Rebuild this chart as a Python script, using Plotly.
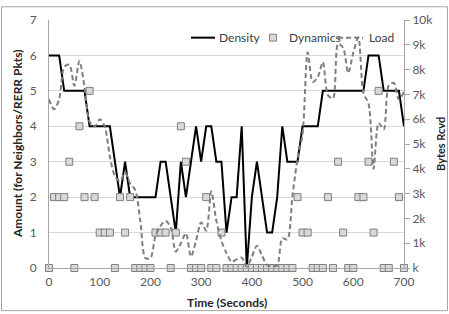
import plotly.graph_objects as go

time_s = list(range(0, 701, 10))

density = [6, 6, 6, 5, 5, 5, 5, 5, 4, 4,
           4, 4, 4, 3, 2, 3, 2, 2, 2, 2,
           2, 2, 3, 3, 2, 1, 3, 2, 3, 4,
           3, 4, 4, 3, 3, 1, 2, 2, 4, 0,
           2, 3, 2, 1, 1, 2, 4, 3, 3, 3,
           4, 4, 4, 4, 5, 5, 5, 5, 5, 5,
           5, 5, 5, 6, 6, 6, 5, 5, 5, 5,
           4]

dynamics = [0, 2, 2, 2, 3, 0, 4, 2, 5, 2,
            1, 1, 1, 0, 2, 1, 2, 0, 0, 0,
            0, 1, 1, 1, 0, 1, 4, 3, 0, 0,
            0, 2, 0, 0, 1, 0, 0, 0, 0, 0,
            0, 0, 0, 0, 0, 0, 0, 0, 0, 2,
            1, 1, 0, 0, 0, 2, 0, 3, 1, 0,
            0, 2, 2, 3, 1, 5, 0, 0, 3, 2,
            0]

load = [6800, 6400, 6800, 8100, 8200, 7350, 8350, 7300, 5900, 5700,
        6000, 5700, 4500, 3700, 3500, 3850, 3400, 3150, 1900, 400,
        400, 1300, 1700, 1900, 1640, 660, 1000, 1400, 460, 1100,
        1840, 1500, 3090, 1900, 1100, 600, 250, 350, 420, 50,
        450, 900, 500, 120, 80, 100, 1200, 1150, 2900, 4400,
        5400, 8700, 7500, 7700, 8300, 6970, 6840, 9040, 8880, 7860,
        8680, 9300, 7040, 6640, 4000, 5850, 5590, 7370, 7460, 6800,
        7100]

series_names = ["Density", "Dynamics", "Load"]
left_ticks = list(range(0, 8))
right_tickvals = list(range(0, 10001, 1000))
right_ticktext = ["k"] + [f"{i}k" for i in range(1, 11)]
x_ticks = list(range(0, 701, 100))

FONT = "Lato, 'Liberation Sans', sans-serif"
TICKC = "#595959"
DARK = "#262626"
DENS_STYLE = dict(color="black", width=2)
DYN_MARKER = dict(symbol="square", size=7, color="#d9d9d9", line=dict(color="#7f7f7f", width=1))
LOAD_STYLE = dict(color="#7f7f7f", width=2, dash="5px,3px")

fig = go.Figure()
fig.add_trace(go.Scatter(x=time_s, y=density, name=series_names[0], mode="lines",
                         line=DENS_STYLE, cliponaxis=False, showlegend=False))
fig.add_trace(go.Scatter(x=time_s, y=dynamics, name=series_names[1], mode="markers",
                         marker=DYN_MARKER, cliponaxis=False, showlegend=False))
fig.add_trace(go.Scatter(x=time_s, y=load, name=series_names[2], mode="lines", yaxis="y2",
                         line=dict(**LOAD_STYLE, shape="spline", smoothing=0.8),
                         cliponaxis=False, showlegend=False))

L, R, T, B = 49, 45, 15, 46
W, H = 449, 314
pw, ph = W - L - R, H - T - B

def px(xo):
    return (xo - L) / pw

def py(yo):
    return (H - B - yo) / ph

# hand-drawn legend (compact, like the original)
LEG_Y = py(33)
shapes = [
    dict(type="rect", xref="paper", yref="paper", x0=px(1.5), x1=px(447.5),
         y0=py(311.5), y1=py(1.5), line=dict(color="#a6a6a6", width=1), layer="above"),
    dict(type="line", xref="paper", yref="paper", x0=px(191), x1=px(215), y0=LEG_Y, y1=LEG_Y,
         line=dict(color=DENS_STYLE["color"], width=DENS_STYLE["width"])),
    dict(type="rect", xref="paper", yref="paper", x0=px(269.5), x1=px(276.5),
         y0=py(36.5), y1=py(29.5), fillcolor=DYN_MARKER["color"],
         line=dict(color="#7f7f7f", width=1)),
    dict(type="line", xref="paper", yref="paper", x0=px(338), x1=px(363), y0=LEG_Y, y1=LEG_Y,
         line=dict(color=LOAD_STYLE["color"], width=2, dash="5px,3px")),
]
legend_text = [(217, series_names[0]), (287, series_names[1]), (367, series_names[2])]

annotations = [
    dict(text="<b>Time (Seconds)</b>", xref="paper", yref="paper", x=px(226.5), y=py(303),
         xanchor="center", yanchor="middle", showarrow=False, font=dict(size=12, color=DARK)),
    dict(text="<b>Amount (for Neighbors/RERR Pkts)</b>", xref="paper", yref="paper",
         x=px(17), y=py(141.5), xanchor="center", yanchor="middle", textangle=-90,
         showarrow=False, font=dict(size=12, color=DARK)),
    dict(text="<b>Bytes Rcvd</b>", xref="paper", yref="paper",
         x=px(440), y=py(141.5), xanchor="center", yanchor="middle", textangle=-90,
         showarrow=False, font=dict(size=11, color=DARK)),
]
for xo, t in legend_text:
    annotations.append(dict(text=t, xref="paper", yref="paper", x=px(xo), y=LEG_Y,
                            xanchor="left", yanchor="middle", showarrow=False,
                            font=dict(size=12, color="#404040")))

fig.update_layout(
    width=W, height=H,
    margin=dict(l=L, r=R, t=T, b=B),
    paper_bgcolor="white", plot_bgcolor="white",
    font=dict(family=FONT, size=12, color=TICKC),
    xaxis=dict(range=[0, 700], tickvals=x_ticks, showgrid=False, zeroline=False,
               showline=True, linecolor="#a6a6a6", ticks="", ticklabelstandoff=3,
               tickfont=dict(size=12, color=TICKC)),
    yaxis=dict(range=[0, 7], tickvals=left_ticks, showgrid=True, gridcolor="#d9d9d9",
               zeroline=False, showline=True, linecolor="#a6a6a6", ticks="",
               ticklabelstandoff=9, tickfont=dict(size=12, color=TICKC)),
    yaxis2=dict(range=[0, 10000], overlaying="y", side="right", tickvals=right_tickvals,
                ticktext=right_ticktext, showgrid=False, zeroline=False, showline=True,
                linecolor="#a6a6a6", ticks="outside", ticklen=5, tickcolor="#a6a6a6",
                tickfont=dict(size=12, color=TICKC)),
    annotations=annotations,
    shapes=shapes,
)

fig.write_html("out.html", config={"displayModeBar": False},
               post_script="document.body.style.margin='0';document.body.style.overflow='hidden';")
